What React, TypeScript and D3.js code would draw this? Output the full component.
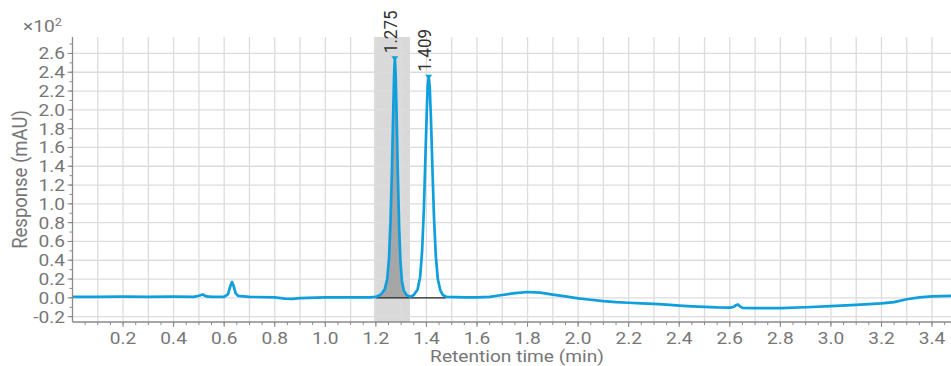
import * as d3 from "d3";

// chromatogram trace: [time (min), response (x10^2 mAU)]
const baselineBefore: [number, number][] = [
  [0.0, 0.01], [0.1, 0.01], [0.2, 0.012], [0.3, 0.01], [0.4, 0.012], [0.48, 0.01],
  [0.5, 0.022], [0.515, 0.035], [0.53, 0.015], [0.55, 0.01], [0.6, 0.01],
  [0.615, 0.04], [0.625, 0.13], [0.631, 0.168], [0.638, 0.12], [0.645, 0.05],
  [0.655, 0.02], [0.7, 0.01], [0.8, 0.005], [0.84, -0.008], [0.87, -0.01],
  [0.9, -0.003], [1.0, 0.005], [1.1, 0.005], [1.18, 0.005],
];

const peak1Trace: [number, number][] = [
  [1.2, 0.01], [1.22, 0.035], [1.235, 0.09], [1.245, 0.2], [1.252, 0.42],
  [1.258, 0.82], [1.263, 1.3], [1.268, 1.9], [1.272, 2.35], [1.275, 2.55],
  [1.278, 2.4], [1.282, 1.95], [1.287, 1.3], [1.292, 0.76], [1.297, 0.4],
  [1.303, 0.18], [1.31, 0.08], [1.32, 0.035], [1.335, 0.01],
];

const peak2Trace: [number, number][] = [
  [1.35, 0.03], [1.365, 0.09], [1.375, 0.22], [1.383, 0.5], [1.39, 0.95],
  [1.396, 1.5], [1.401, 1.95], [1.405, 2.25], [1.409, 2.353], [1.413, 2.25],
  [1.418, 1.9], [1.424, 1.35], [1.43, 0.85], [1.437, 0.45], [1.445, 0.2],
  [1.455, 0.08], [1.465, 0.03], [1.48, 0.01],
];

const baselineAfter: [number, number][] = [
  [1.55, 0.005], [1.6, 0.005], [1.65, 0.01], [1.7, 0.03], [1.75, 0.05],
  [1.8, 0.062], [1.85, 0.055], [1.9, 0.035], [1.95, 0.015], [2.0, -0.005],
  [2.05, -0.02], [2.1, -0.035], [2.15, -0.045], [2.2, -0.052], [2.25, -0.058],
  [2.3, -0.065], [2.35, -0.072], [2.4, -0.082], [2.45, -0.09], [2.5, -0.097],
  [2.55, -0.102], [2.6, -0.104], [2.615, -0.097], [2.625, -0.078], [2.632, -0.07],
  [2.64, -0.09], [2.65, -0.106], [2.7, -0.11], [2.8, -0.11], [2.9, -0.1],
  [3.0, -0.088], [3.1, -0.075], [3.2, -0.058], [3.25, -0.045], [3.3, -0.015],
  [3.35, 0.005], [3.4, 0.015], [3.475, 0.02],
];

const peakTimes = [1.275, 1.409];
const peakHeights = [2.55, 2.353];
const peakLabels = ["1.275", "1.409"];

const selectedWindow = [1.193, 1.335];
const integrationBaseline = [1.2, 1.477];

const xTickValues = [0.2, 0.4, 0.6, 0.8, 1.0, 1.2, 1.4, 1.6, 1.8, 2.0, 2.2, 2.4, 2.6, 2.8, 3.0, 3.2, 3.4];
const yTickValues = [-0.2, 0.0, 0.2, 0.4, 0.6, 0.8, 1.0, 1.2, 1.4, 1.6, 1.8, 2.0, 2.2, 2.4, 2.6];

const W = 951;
const H = 366;
const left = 72.5;
const top = 37;
const bottom = 322;

const LINE = "#0f9fdd";
const TEXT = "#767676";
const AXIS = "#8a8a8a";
const FONT = "Roboto, sans-serif";
const FS = 16.5;
const SX = 1.16; // the picture's text is stretched sideways

// horizontal text, widened like the reference
function HText(props: { x: number; y: number; anchor?: string; dy?: string; size?: number; fill?: string; children: any }) {
  return (
    <g transform={`translate(${props.x},${props.y}) scale(${SX},1)`}>
      <text textAnchor={props.anchor ?? "start"} dy={props.dy} fontSize={props.size ?? FS} fill={props.fill ?? TEXT}>
        {props.children}
      </text>
    </g>
  );
}

export default function App() {
  const x = d3.scaleLinear().domain([0, 3.475]).range([left, W]);
  const y = d3.scaleLinear().domain([-0.257, 2.775]).range([bottom, top]);

  const trace = [...baselineBefore, ...peak1Trace, ...peak2Trace, ...baselineAfter];
  const line = d3.line<[number, number]>().x((d) => x(d[0])).y((d) => y(d[1]));

  const area = d3
    .area<[number, number]>()
    .x((d) => x(d[0]))
    .y0(y(0))
    .y1((d) => y(d[1]));

  const xGrid = d3.range(1, 35).map((i) => i / 10);
  const xMinor = d3.range(1, 70).map((i) => i / 20);
  const yMinor = d3.range(-2, 28).map((i) => i / 10);

  return (
    <svg width={W} height={H} style={{ position: "absolute", left: 0, top: 0 }} fontFamily={FONT}>
      <rect x={x(selectedWindow[0])} y={top} width={x(selectedWindow[1]) - x(selectedWindow[0])} height={bottom - top} fill="#d9d9d9" />

      {xGrid.map((t) => (
        <line key={`gx${t}`} x1={x(t)} x2={x(t)} y1={top} y2={bottom} stroke="#dcdcdc" strokeWidth={1.3} />
      ))}
      {yTickValues.map((v) => (
        <line key={`gy${v}`} x1={left} x2={W} y1={y(v)} y2={y(v)} stroke="#dcdcdc" strokeWidth={1.3} />
      ))}

      <path d={area(peak1Trace) ?? ""} fill="#a6a6a6" />
      <line x1={x(integrationBaseline[0])} x2={x(integrationBaseline[1])} y1={y(0)} y2={y(0)} stroke="#222" strokeWidth={1.2} />

      <path d={line(trace) ?? ""} fill="none" stroke={LINE} strokeWidth={2.7} strokeLinejoin="round" />

      {peakTimes.map((t, i) => (
        <g key={`pk${i}`}>
          <path
            d={`M${x(t) - 3.5},${y(peakHeights[i]) - 2}L${x(t) + 3.5},${y(peakHeights[i]) - 2}L${x(t)},${y(peakHeights[i]) + 2.5}Z`}
            fill={LINE}
          />
          <g transform={`translate(${x(t) + 2.5},${y(peakHeights[i]) - 5}) scale(1.12,1) rotate(-90)`}>
            <text fontSize={17} fill="#333">
              {peakLabels[i]}
            </text>
          </g>
        </g>
      ))}

      {/* axes */}
      <line x1={left} x2={left} y1={top} y2={bottom} stroke={AXIS} strokeWidth={1.3} />
      <line x1={left} x2={W} y1={bottom} y2={bottom} stroke={AXIS} strokeWidth={1.3} />

      {yMinor.map((v) => (
        <line key={`ym${v}`} x1={left - 3} x2={left} y1={y(v)} y2={y(v)} stroke={AXIS} />
      ))}
      {yTickValues.map((v) => (
        <g key={`yt${v}`}>
          <line x1={left - 5} x2={left} y1={y(v)} y2={y(v)} stroke={AXIS} />
          <HText x={65} y={y(v)} dy="0.36em" anchor="end">
            {d3.format(".1f")(v).replace("−", "-")}
          </HText>
        </g>
      ))}

      {xMinor.map((t) => (
        <line key={`xm${t}`} x1={x(t)} x2={x(t)} y1={bottom} y2={bottom + 3} stroke={AXIS} />
      ))}
      {xTickValues.map((t) => (
        <g key={`xt${t}`}>
          <line x1={x(t)} x2={x(t)} y1={bottom} y2={bottom + 5} stroke={AXIS} />
          <HText x={x(t)} y={343.5} anchor="middle">
            {d3.format(".1f")(t)}
          </HText>
        </g>
      ))}

      <HText x={62} y={32} anchor="end">
        ×10<tspan fontSize={11} dy={-6}>2</tspan>
      </HText>

      <g transform={`translate(27,${(top + bottom) / 2}) scale(1.1,1) rotate(-90)`}>
        <text textAnchor="middle" fontSize={18.5} fill={TEXT}>
          Response (mAU)
        </text>
      </g>
      <HText x={517} y={362} anchor="middle">
        Retention time (min)
      </HText>
    </svg>
  );
}
